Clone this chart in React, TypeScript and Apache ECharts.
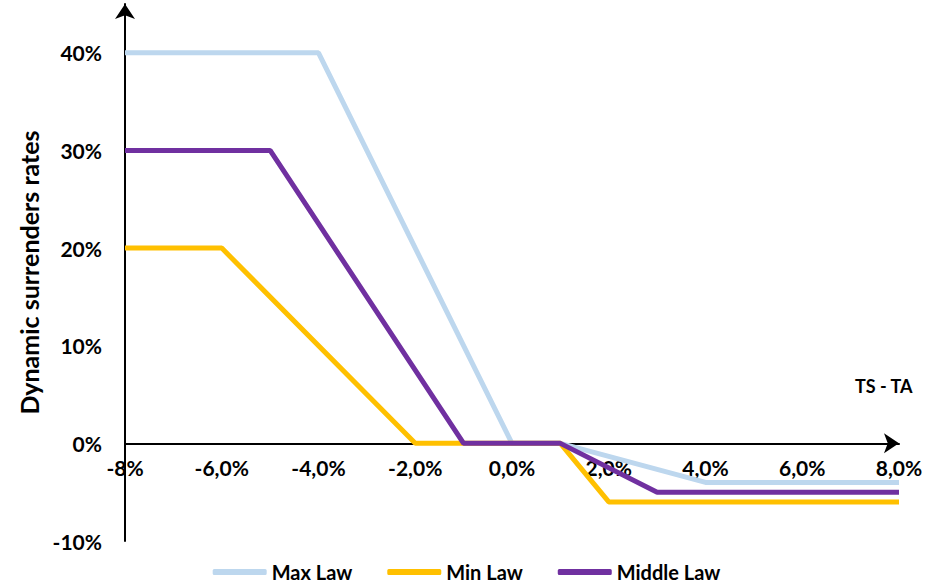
import React, { useEffect, useRef } from "react";
import * as echarts from "echarts";

const seriesNames = ["Max Law", "Min Law", "Middle Law"];
const maxLawX = [-8, -4, 0, 1, 4, 8];
const maxLawY = [40, 40, 0, 0, -4, -4];
const minLawX = [-8, -6, -2, 1, 2, 8];
const minLawY = [20, 20, 0, 0, -6, -6];
const middleLawX = [-8, -5, -1, 1, 3, 8];
const middleLawY = [30, 30, 0, 0, -5, -5];
const yTicks = [-10, 0, 10, 20, 30, 40];
const yAxisTitle = "Dynamic surrenders rates";
const xAxisTitle = "TS - TA";

const colors = ["#BDD7EE", "#FFC000", "#7030A0"];
const FONT = "Lato";

const Y_MIN = -10;
const Y_MAX = 45;
const GRID_TOP = 4;
const GRID_BOTTOM = 47;
const H = 588;

function pairs(xs: number[], ys: number[]) {
  return xs.map((x, i) => [x, ys[i]]);
}

export default function App() {
  const ref = useRef<HTMLDivElement>(null);
  useEffect(() => {
    if (!ref.current) return;
    const chart = echarts.init(ref.current, null, { renderer: "svg" });
    const data = [pairs(maxLawX, maxLawY), pairs(minLawX, minLawY), pairs(middleLawX, middleLawY)];
    const gridH = H - GRID_TOP - GRID_BOTTOM;
    const zeroOffset = -(gridH * (0 - Y_MIN)) / (Y_MAX - Y_MIN);
    chart.setOption({
      animation: false,
      backgroundColor: "#fff",
      textStyle: { fontFamily: FONT },
      grid: { left: 125, right: 34, top: GRID_TOP, bottom: GRID_BOTTOM, containLabel: false, outerBoundsMode: "none" },
      legend: {
        top: 557,
        left: "center",
        itemWidth: 54,
        itemHeight: 6,
        itemGap: 35,
        icon: "roundRect",
        textStyle: { fontFamily: FONT, fontWeight: "bold", fontSize: 20, color: "#000" },
        data: seriesNames,
      },
      xAxis: {
        type: "value",
        min: -8,
        max: 8,
        interval: 2,
        position: "bottom",
        offset: zeroOffset,
        axisLine: { onZero: false, lineStyle: { color: "#000", width: 2 }, symbol: ["none", "arrow"], symbolSize: [15, 15] },
        axisTick: { show: false },
        splitLine: { show: false },
        axisLabel: {
          margin: 14,
          fontFamily: FONT,
          fontWeight: "bold",
          fontSize: 21,
          color: "#000",
          formatter: (v: number) => (v === -8 ? "-8%" : v.toFixed(1).replace(".", ",") + "%"),
        },
      },
      yAxis: {
        type: "value",
        min: Y_MIN,
        max: Y_MAX,
        interval: 10,
        name: yAxisTitle,
        nameLocation: "middle",
        nameRotate: 90,
        nameGap: 80,
        nameTextStyle: { fontFamily: FONT, fontWeight: "bold", fontSize: 25, color: "#000" },
        axisLine: { onZero: false, lineStyle: { color: "#000", width: 2 }, symbol: ["none", "arrow"], symbolSize: [15, 15] },
        axisTick: { show: false },
        splitLine: { show: false },
        axisLabel: {
          margin: 23,
          fontFamily: FONT,
          fontWeight: "bold",
          fontSize: 21,
          color: "#000",
          formatter: (v: number) => (yTicks.includes(v) ? v + "%" : ""),
        },
      },
      graphic: [
        {
          type: "text",
          left: 855,
          top: 377,
          style: { text: xAxisTitle, fontFamily: FONT, fontWeight: "bold", fontSize: 18, fill: "#000" },
        },
      ],
      series: seriesNames.map((name, i) => ({
        name,
        type: "line",
        data: data[i],
        showSymbol: false,
        symbol: "none",
        color: colors[i],
        lineStyle: { color: colors[i], width: 5 },
        z: 2 + i,
      })),
    });
    return () => chart.dispose();
  }, []);
  return <div ref={ref} style={{ width: 933, height: 588, position: "absolute", left: 0, top: 0 }} />;
}
